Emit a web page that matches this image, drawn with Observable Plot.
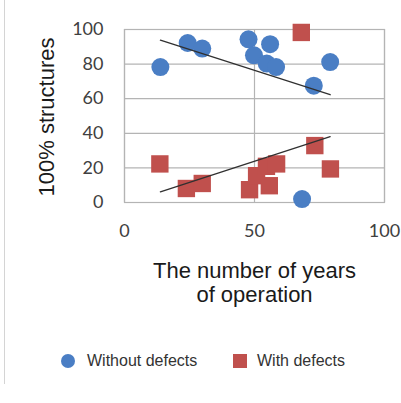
<!DOCTYPE html>
<html>
<head>
<meta charset="utf-8">
<script src="https://cdn.jsdelivr.net/npm/d3@7"></script>
<script src="https://cdn.jsdelivr.net/npm/@observablehq/plot@0.6"></script>
<style>
  html, body { margin: 0; padding: 0; background: #fff; }
  #wrap { position: relative; width: 401px; height: 403px; overflow: hidden; }
  #edge { position: absolute; left: 4px; top: 0; width: 1px; height: 384px; background: #d4d4d4; }
  #legend { position: absolute; top: 350px; left: 0; width: 401px; height: 22px;
            font-family: "Liberation Sans", Arial, sans-serif; font-size: 16px; color: #333; }
  .sw { position: absolute; width: 14px; height: 14px; top: 4px; }
  .lt { position: absolute; top: 1px; line-height: 20px; white-space: nowrap; }
</style>
</head>
<body>
<div id="wrap">
  <div id="chart"></div>
  <div id="edge"></div>
  <div id="legend"></div>
</div>
<script>
// Series: "Without defects" (blue circles)
const withoutYears = [13.8, 24.3, 29.9, 47.7, 49.8, 56.0, 54.7, 58.3, 72.8, 79.1, 68.3];
const withoutPct   = [78.3, 92.2, 89.0, 94.3, 85.1, 91.5, 80.3, 78.3, 67.5, 81.2, 2.0];
// Series: "With defects" (red squares)
const withYears = [13.6, 23.8, 29.9, 68.0, 48.1, 50.8, 55.7, 54.6, 58.5, 73.2, 79.2];
const withPct   = [22.3, 8.1, 11.0, 98.3, 7.4, 15.5, 9.7, 20.9, 22.3, 32.9, 19.4];
// Trend line endpoints
const trendYears   = [13.8, 79.1];
const trendWithout = [93.8, 62.3];
const trendWith    = [6.2, 38.1];
// Ticks and labels
const xTicks = [0, 50, 100];
const yTicks = [0, 20, 40, 60, 80, 100];
const seriesNames = ["Without defects", "With defects"];
const seriesColors = ["#4a7ec4", "#c0504d"];
const yTitle = "100% structures";
const xTitle = "The number of years\nof operation";

const without = withoutYears.map((x, i) => ({x, y: withoutPct[i]}));
const withD = withYears.map((x, i) => ({x, y: withPct[i]}));
const tWithout = trendYears.map((x, i) => ({x, y: trendWithout[i]}));
const tWith = trendYears.map((x, i) => ({x, y: trendWith[i]}));

const chart = Plot.plot({
  width: 401,
  height: 320,
  marginLeft: 124,
  marginRight: 17,
  marginTop: 29,
  marginBottom: 118,
  style: {fontFamily: "Lato, sans-serif", fontSize: "18px", color: "#404040", background: "#fff", overflow: "visible"},
  x: {domain: [0, 100]},
  y: {domain: [0, 100]},
  marks: [
    Plot.gridY(yTicks, {stroke: "#b4b4b4", strokeOpacity: 1, strokeWidth: 1.2}),
    Plot.gridX(xTicks, {stroke: "#b4b4b4", strokeOpacity: 1, strokeWidth: 1.2}),
    Plot.frame({stroke: "#b4b4b4", strokeWidth: 1.2}),
    Plot.axisX(xTicks, {tickSize: 0, tickPadding: 22, label: null, fontSize: 18}),
    Plot.axisY(yTicks, {tickSize: 0, tickPadding: 21, label: null, fontSize: 18}),
    Plot.dot(without, {x: "x", y: "y", r: 9, fill: seriesColors[0], symbol: "circle"}),
    Plot.dot(withD, {x: "x", y: "y", r: 9.8, fill: seriesColors[1], symbol: "square"}),
    Plot.line(tWithout, {x: "x", y: "y", stroke: "#303030", strokeWidth: 1.3}),
    Plot.line(tWith, {x: "x", y: "y", stroke: "#303030", strokeWidth: 1.3}),
    Plot.text([yTitle], {frameAnchor: "left", rotate: -90, dx: -71, dy: 1, lineAnchor: "bottom", textAnchor: "middle",
      fontFamily: "Liberation Sans, Arial, sans-serif", fontSize: 22, fill: "#1a1a1a"}),
    Plot.text([xTitle], {frameAnchor: "bottom", dy: 58, lineAnchor: "top", lineHeight: 1.09,
      fontFamily: "Liberation Sans, Arial, sans-serif", fontSize: 22, fill: "#1a1a1a"})
  ]
});
document.getElementById("chart").appendChild(chart);

// Legend
const legend = document.getElementById("legend");
const legendPos = [{sw: 61, tx: 87, round: true}, {sw: 233, tx: 257, round: false}];
seriesNames.forEach((name, i) => {
  const s = document.createElement("div");
  s.className = "sw";
  s.style.left = legendPos[i].sw + "px";
  s.style.background = seriesColors[i];
  if (legendPos[i].round) s.style.borderRadius = "50%";
  legend.appendChild(s);
  const t = document.createElement("div");
  t.className = "lt";
  t.style.left = legendPos[i].tx + "px";
  t.textContent = name;
  legend.appendChild(t);
});
</script>
</body>
</html>
